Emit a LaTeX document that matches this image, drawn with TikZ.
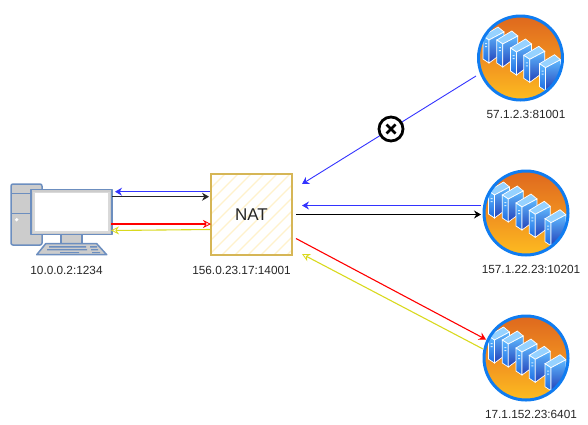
\documentclass[tikz,border=0pt]{standalone}
\usepackage{fontspec}
\setmainfont{Liberation Sans}
\usetikzlibrary{arrows.meta, positioning, calc}
\definecolor{cNatFill}{RGB}{255,242,204}
\definecolor{cNatLine}{RGB}{214,182,86}
\definecolor{cPcLine}{RGB}{108,142,191}
\definecolor{cPcFill}{RGB}{204,204,204}
\definecolor{cBlueArrow}{RGB}{51,51,255}
\definecolor{cYellowArrow}{RGB}{217,217,30}
\definecolor{cRing}{RGB}{16,124,240}
\definecolor{cOrangeTop}{RGB}{222,104,30}
\definecolor{cOrangeMid}{RGB}{240,142,32}
\definecolor{cOrangeLow}{RGB}{253,188,32}
\definecolor{cSlabTop}{RGB}{150,210,255}
\definecolor{cSlabLight}{RGB}{95,185,255}
\definecolor{cSlabMid}{RGB}{30,105,225}
\definecolor{cSlabDark}{RGB}{35,65,185}
\tikzset{
    addr/.style={font=\fontsize{11.8}{13}\selectfont, text=black!85, inner sep=0pt, outer sep=0pt},
    natbox/.style={rectangle, minimum width=81, minimum height=81, draw=cNatLine, line width=1.8pt, fill=white, outer sep=0pt, inner sep=0pt, font=\fontsize{17}{20}\selectfont, text=black!85,
        path picture={\foreach \hx in {0,13,...,170}{\draw[cNatFill, line width=1.1pt] ($(path picture bounding box.south west)+(\hx-80,0)$) --++(90,-90);}}},
    srvnode/.style={circle, minimum size=84, inner sep=0pt, outer sep=0pt},
    pcnode/.style={rectangle, minimum width=81, minimum height=45, inner sep=0pt, outer sep=0pt},
    solidtip/.style={-{Stealth[length=7pt,width=8pt]}},
    opentip/.style={-{Stealth[open,length=8pt,width=8pt,line width=.8pt]}},
    pcpart/.style={draw=cPcLine, line width=1.5pt, fill=cPcFill, line join=round},
    keybar/.style={fill=cPcLine},
    pics/srvicon/.style={code={
        \begin{scope}
            \clip (0,0) circle (42);
            \shade[top color=cOrangeTop, bottom color=cOrangeLow, middle color=cOrangeMid] (-42,-42) rectangle (42,42);
            \foreach \sx/\sy in {-37.5/-22, -23.7/-18, -10/-10, 3.3/-2.7, 19/5.7}{
                \fill[cSlabTop, draw=white, line width=.7pt] (\sx,\sy) --++(15,-9) --++(6,5) --++(-15,8) -- cycle;
                \shade[top color=cSlabLight, bottom color=cSlabMid, draw=white, line width=.7pt] (\sx,\sy) --++(6,4) --++(0,23) --++(-6,-4) -- cycle;
                \shade[top color=cSlabLight, bottom color=cSlabDark, draw=white, line width=.7pt] (\sx+6,\sy+4) --++(15,-8) --++(0,20) --++(-15,11) -- cycle;
                \fill[white!70!cSlabLight] (\sx+2,\sy+7) rectangle ++(2,1) (\sx+2,\sy+10) rectangle ++(2,1);
            }
        \end{scope}
        \draw[cRing, line width=3pt] (0,0) circle (42);
    }},
}

\begin{document}
\begin{tikzpicture}[x=1pt, y=-1pt]
    \useasboundingbox (0,0) rectangle (588,424);

    % the computer
    \node[pcnode] (pc) at (71.5,212) {};
    \draw[pcpart, rounded corners=2pt] (11,184) rectangle (42,245);
    \draw[cPcLine, line width=1.3pt] (11,193.7) -- (31,193.7) (11,213.7) -- (31,213.7);
    \fill[white] (16.7,219.7) circle (1.8);
    \draw[pcpart] (61,234) rectangle (82,243.7);
    \draw[pcpart, line join=round] (45.7,243.7) -- (96.7,243.7) -- (106.7,254.7) -- (36.7,254.7) -- cycle;
    \fill[keybar] (49,246) rectangle (86,247.6) (90,246) rectangle (97,247.6) (47,249) rectangle (87,250.4) (91,249) rectangle (98,250.4) (60,252) rectangle (79,253.2) (92,252) rectangle (100,253.2);
    \draw[pcpart] (31,189.7) rectangle (112,234.7);
    \fill[white!85!black] (33,191.5) rectangle (110,233);
    \fill[white] (35,193) rectangle (108,231);
    \node[addr, below=31.5pt of pc, xshift=-5pt] (pclabel) {10.0.0.2:1234};

    % the NAT box
    \node[natbox] (nat) at (251.5,214.5) {NAT};
    \node[addr, below=11pt of nat, xshift=-10pt] (natlabel) {156.0.23.17:14001};

    % the servers
    \node[srvnode] (srvA) at (520.5,58) {};
    \node[srvnode] (srvB) at (526,213) {};
    \node[srvnode] (srvC) at (526,358) {};
    \pic at (srvA) {srvicon};
    \pic at (srvB) {srvicon};
    \pic at (srvC) {srvicon};
    \node[addr, below=10.5pt of srvA, xshift=5.5pt] (srvAlabel) {57.1.2.3:81001};
    \node[addr, below=10.5pt of srvB, xshift=5pt] (srvBlabel) {157.1.22.23:10201};
    \node[addr, below=10.5pt of srvC, xshift=5pt] (srvClabel) {17.1.152.23:6401};

    % arrow ends
    \coordinate (pcA) at ($(pc.east)+(3,-20.3)$);
    \coordinate (pcB) at ($(pc.east)+(0,-15.3)$);
    \coordinate (pcC) at ($(pc.east)+(-1,12)$);
    \coordinate (pcD) at ($(pc.east)+(-1,18.5)$);
    \coordinate (natA) at ($(nat.west)+(-1,-22.8)$);
    \coordinate (natB) at ($(nat.west)+(-2,-17.8)$);
    \coordinate (natC) at ($(nat.west)+(0,9.5)$);
    \coordinate (natD) at ($(nat.west)+(-1,15)$);
    \coordinate (outA) at ($(nat.east)+(10,-30.5)$);
    \coordinate (outB) at ($(nat.east)+(10,-9)$);
    \coordinate (outC) at ($(nat.east)+(4,0)$);
    \coordinate (outD) at ($(nat.east)+(4,24)$);
    \coordinate (outE) at ($(nat.east)+(10,39.5)$);
    \coordinate (inA) at ($(srvA)+(-44.5,18)$);
    \coordinate (inB) at ($(srvB)+(-45,-7.5)$);
    \coordinate (inC) at ($(srvB)+(-45,1.5)$);
    \coordinate (inD) at ($(srvC)+(-40,-18.5)$);
    \coordinate (inE) at ($(srvC)+(-43,-9)$);

    \draw[solidtip, cBlueArrow, line width=.9pt](natA)--(pcA);
    \draw[solidtip, black!85, line width=.9pt](pcB)--(natB);
    \draw[opentip, red, line width=1.1pt](pcC)--(natC);
    \draw[opentip, cYellowArrow, line width=1.1pt](natD)--(pcD);
    \draw[solidtip, cBlueArrow, line width=.9pt](inA)--(outA);
    \draw[solidtip, cBlueArrow, line width=.9pt](inB)--(outB);
    \draw[solidtip, black, line width=.9pt](outC)--(inC);
    \draw[solidtip, red, line width=1.1pt](outD)--(inD);
    \draw[opentip, cYellowArrow, line width=1.1pt](inE)--(outE);

    % blocked mark
    \node[circle, draw=black, fill=white, line width=2.8pt, minimum size=24, inner sep=0pt] (block) at (391,129) {};
    \draw[black, line width=2.6pt] ($(block)+(-4.5,-4.5)$) -- ($(block)+(4.5,4.5)$) ($(block)+(-4.5,4.5)$) -- ($(block)+(4.5,-4.5)$);
\end{tikzpicture}
\end{document}
